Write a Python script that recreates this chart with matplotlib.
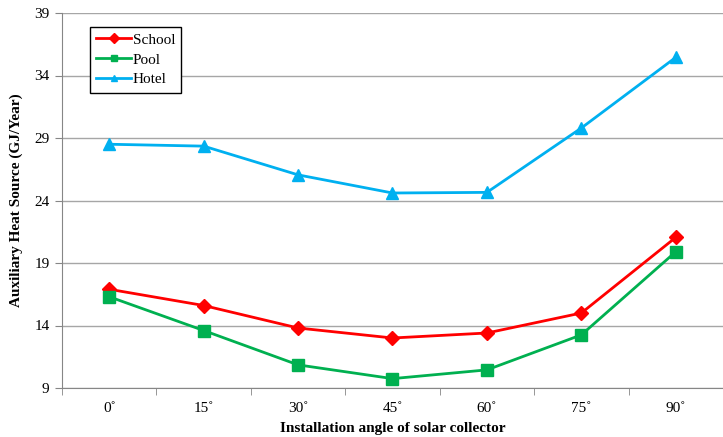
import matplotlib
matplotlib.use("Agg")
import matplotlib.pyplot as plt
import numpy as np

angles = ["0˚", "15˚", "30˚", "45˚", "60˚", "75˚", "90˚"]
school = [16.9, 15.6, 13.8, 13.0, 13.4, 15.0, 21.05]
pool = [16.3, 13.6, 10.85, 9.75, 10.45, 13.25, 19.9]
hotel = [28.5, 28.35, 26.05, 24.6, 24.65, 29.8, 35.45]

plt.rcParams["font.family"] = ["Liberation Serif", "DejaVu Serif"]

fig = plt.figure(figsize=(7.23, 4.37), dpi=100)
ax = fig.add_axes([62 / 723, 49 / 437, 661 / 723, 375 / 437])

x = np.arange(len(angles))
ax.plot(x, school, color="#ff0000", lw=2, marker="D", ms=7, label="School")
ax.plot(x, pool, color="#00b050", lw=2, marker="s", ms=8, label="Pool")
ax.plot(x, hotel, color="#00b0f0", lw=2, marker="^", ms=9, label="Hotel")

ax.set_xlim(-0.5, -0.5 + 661 / 95.6)
ax.set_ylim(9, 39)
ax.set_yticks(np.arange(9, 40, 5))
ax.yaxis.grid(True, color="#a6a6a6", lw=1)
ax.set_axisbelow(True)

ax.set_xticks(x)
ax.set_xticklabels(angles, fontsize=11)
ax.set_xticks(np.arange(-0.5, 7, 1), minor=True)
ax.tick_params(axis="x", which="major", length=0, pad=10)
ax.tick_params(axis="x", which="minor", length=5, color="#868686", direction="out")
ax.tick_params(axis="y", length=5, color="#868686", labelsize=11, pad=4)

for side in ["top", "right"]:
    ax.spines[side].set_visible(False)
for side in ["left", "bottom"]:
    ax.spines[side].set_color("#868686")

ax.set_xlabel("Installation angle of solar collector", fontsize=11, fontweight="bold", labelpad=5)
ax.set_ylabel("Auxiliary Heat Source (GJ/Year)", fontsize=11, fontweight="bold", labelpad=8)

leg = ax.legend(loc="upper left", bbox_to_anchor=(90 / 723, 1 - 27 / 437),
                bbox_transform=fig.transFigure, borderaxespad=0, fancybox=False,
                framealpha=1, edgecolor="black", fontsize=11, handlelength=2.3,
                handletextpad=0.1, borderpad=0.4, labelspacing=0.4)
leg.get_frame().set_linewidth(1)
for h in leg.legend_handles:
    h.set_markersize(5)

fig.savefig("out.png", dpi=100)
